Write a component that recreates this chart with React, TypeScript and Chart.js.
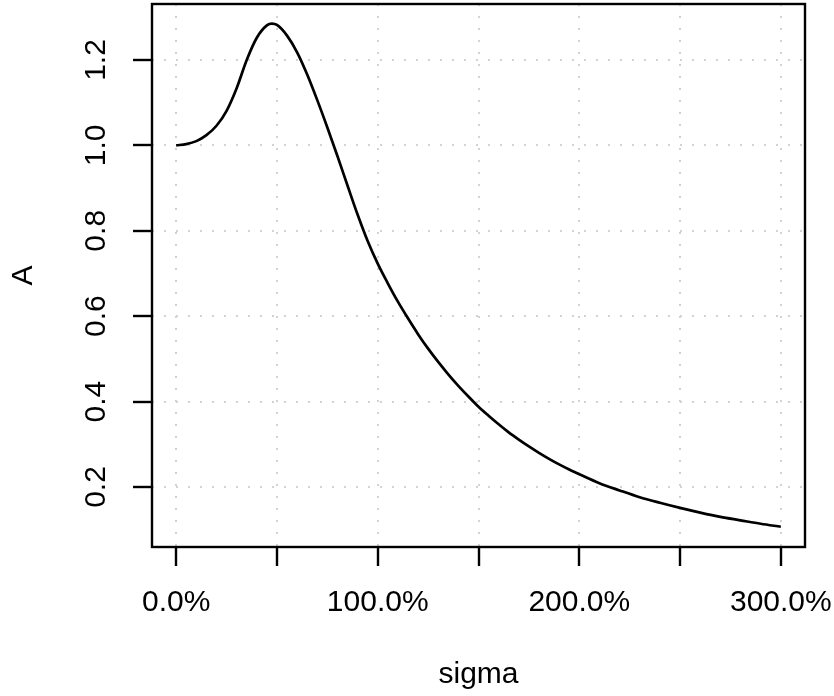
import React, { useEffect, useRef } from "react";
import { Chart, registerables } from "chart.js";

Chart.register(...registerables);

// sigma values in percent
const sigmaPct = [
  0, 5, 10, 15, 20, 25, 30, 35, 40, 45, 47.5, 50, 55, 60, 65, 70, 75, 80, 85, 90, 95,
  100, 105, 110, 115, 120, 125, 130, 135, 140, 145, 150, 155, 160, 165, 170, 175,
  180, 185, 190, 195, 200, 210, 220, 230, 240, 250, 260, 270, 280, 290, 300,
];
const aValues = [
  1.0, 1.003, 1.01, 1.024, 1.046, 1.081, 1.134, 1.2, 1.252, 1.281, 1.285, 1.282, 1.257,
  1.218, 1.166, 1.106, 1.042, 0.975, 0.906, 0.838, 0.776,
  0.723, 0.677, 0.634, 0.595, 0.558, 0.524, 0.493, 0.464, 0.437, 0.412, 0.388,
  0.367, 0.347, 0.328, 0.311, 0.295, 0.28, 0.266, 0.253, 0.241, 0.23,
  0.209, 0.192, 0.176, 0.163, 0.151, 0.14, 0.13, 0.122, 0.114, 0.107,
];

const xTickValues = [0, 50, 100, 150, 200, 250, 300];
const xLabelValues = [0, 100, 200, 300];
const yTickValues = [0.2, 0.4, 0.6, 0.8, 1.0, 1.2];
const xTitle = "sigma";
const yTitle = "A";

const FONT = "'Liberation Sans', Arial, Helvetica, sans-serif";
const FONT_SIZE = 30;

const boxPlugin = {
  id: "rbox",
  afterDraw(chart: any) {
    const { ctx, chartArea } = chart;
    ctx.save();
    ctx.strokeStyle = "#000";
    ctx.lineWidth = 2.4;
    ctx.setLineDash([]);
    ctx.strokeRect(
      chartArea.left,
      chartArea.top,
      chartArea.right - chartArea.left,
      chartArea.bottom - chartArea.top
    );
    ctx.restore();
  },
};

const zeroPad = (s: any) => {
  s.paddingLeft = 0;
  s.paddingRight = 0;
  s.paddingTop = 0;
  s.paddingBottom = 0;
};

export default function App() {
  const ref = useRef<HTMLCanvasElement | null>(null);

  useEffect(() => {
    document.body.style.margin = "0";
    const canvas = ref.current;
    if (!canvas) return;
    const points = sigmaPct.map((x, i) => ({ x, y: aValues[i] }));
    const chart = new Chart(canvas, {
      type: "line",
      data: {
        datasets: [
          {
            data: points,
            borderColor: "#000",
            borderWidth: 2.7,
            pointRadius: 0,
            fill: false,
            cubicInterpolationMode: "monotone",
          },
        ],
      },
      options: {
        animation: false,
        responsive: false,
        devicePixelRatio: 1,
        layout: { padding: { top: 4, right: 29, bottom: 0, left: 0 } },
        plugins: {
          legend: { display: false },
          tooltip: { enabled: false },
        },
        scales: {
          x: {
            type: "linear",
            min: -12,
            max: 312,
            afterBuildTicks: (s: any) => {
              s.ticks = xTickValues.map((v) => ({ value: v }));
            },
            afterFit: (s: any) => {
              s.height = 149;
              zeroPad(s);
            },
            grid: {
              color: "#d3d3d3",
              lineWidth: 2,
              borderDash: [2, 10],
              tickColor: "#000",
              tickLength: 19,
              tickWidth: 2.4,
              tickBorderDash: [],
            } as any,
            border: { display: false, dash: [2, 10] },
            ticks: {
              autoSkip: false,
              maxRotation: 0,
              minRotation: 0,
              padding: 19,
              color: "#000",
              font: { family: FONT, size: FONT_SIZE },
              callback: (v: any) =>
                xLabelValues.includes(Number(v)) ? Number(v).toFixed(1) + "%" : "",
            },
            title: {
              display: true,
              text: xTitle,
              color: "#000",
              font: { family: FONT, size: FONT_SIZE },
              padding: { top: 0, bottom: 3 },
            },
          },
          y: {
            type: "linear",
            min: 0.0595,
            max: 1.3311,
            afterBuildTicks: (s: any) => {
              s.ticks = yTickValues.map((v) => ({ value: v }));
            },
            afterFit: (s: any) => {
              s.width = 152;
              zeroPad(s);
            },
            grid: {
              color: "#d3d3d3",
              lineWidth: 2,
              borderDash: [2, 10],
              tickColor: "#000",
              tickLength: 19,
              tickWidth: 2.4,
              tickBorderDash: [],
            } as any,
            border: { display: false, dash: [2, 10] },
            ticks: {
              autoSkip: false,
              minRotation: 90,
              maxRotation: 90,
              crossAlign: "center",
              padding: 15,
              color: "#000",
              font: { family: FONT, size: FONT_SIZE },
              callback: (v: any) => Number(v).toFixed(1),
            },
            title: {
              display: true,
              text: yTitle,
              color: "#000",
              font: { family: FONT, size: FONT_SIZE },
              padding: { top: 6, bottom: 0 },
            },
          },
        },
      },
      plugins: [boxPlugin],
    });
    return () => chart.destroy();
  }, []);

  return (
    <div style={{ width: 834, height: 696, background: "#fff" }}>
      <canvas ref={ref} width={834} height={696} style={{ display: "block" }} />
    </div>
  );
}
